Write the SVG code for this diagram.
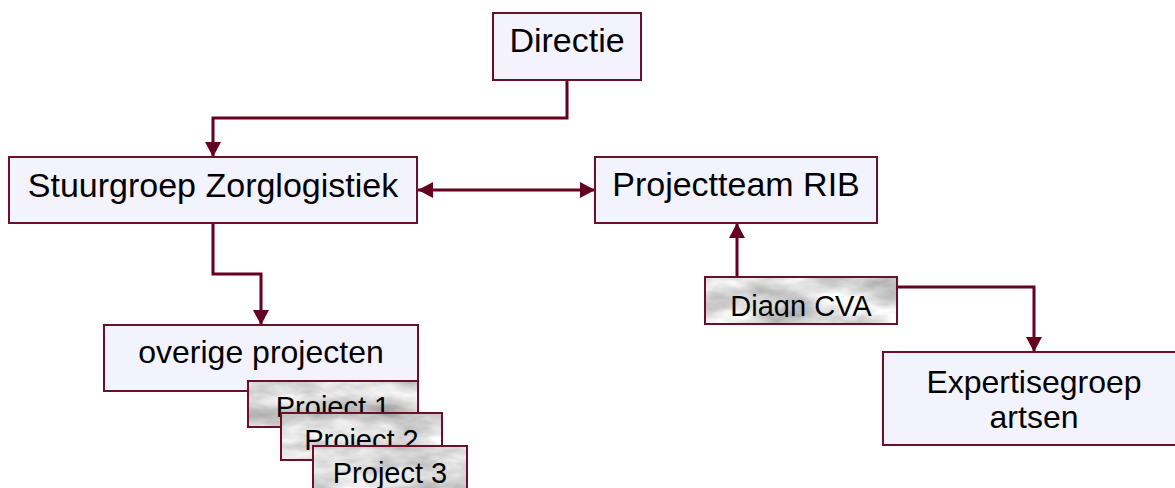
<svg xmlns="http://www.w3.org/2000/svg" width="1175" height="488" viewBox="0 0 1175 488">
  <style>
    .box { fill: #f3f3fe; stroke: #6b1028; stroke-width: 2; }
    .frame { fill: none; stroke: #6b1028; stroke-width: 2; }
    .tex { fill: #dddddd; filter: url(#marble); }
    .lbl { font-family: "Liberation Sans", Arial, sans-serif; fill: #000; text-anchor: middle; }
    .big { font-size: 34px; }
    .mid { font-size: 32px; }
    .small { font-size: 29px; }
    .conn { fill: none; stroke: #660020; stroke-width: 3; }
  </style>
  <defs>
    <marker id="arrow" markerUnits="userSpaceOnUse" markerWidth="16" markerHeight="16" viewBox="0 0 16 16" refX="15" refY="8" orient="auto-start-reverse">
      <path d="M0,0 L15,8 L0,16 z" fill="#660020"/>
    </marker>
    <filter id="marble" x="0" y="0" width="100%" height="100%" color-interpolation-filters="sRGB">
      <feTurbulence type="fractalNoise" baseFrequency="0.016 0.04" numOctaves="4" seed="7" result="n"/>
      <feColorMatrix in="n" type="matrix" values="0.6 0 0 0 0.56  0.6 0 0 0 0.56  0.6 0 0 0 0.56  0 0 0 0 1" result="g"/>
      <feComposite in="g" in2="SourceGraphic" operator="in"/>
    </filter>
    <clipPath id="clipDiagn">
      <rect x="705" y="277" width="192" height="40"/>
    </clipPath>
  </defs>

  <g id="connectors">
    <path class="conn" d="M567,80 V118 H213 V157" marker-end="url(#arrow)"/>
    <path class="conn" d="M418,190 H595" marker-start="url(#arrow)" marker-end="url(#arrow)"/>
    <path class="conn" d="M213,223 V274 H261 V325" marker-end="url(#arrow)"/>
    <path class="conn" d="M737,277 V223" marker-end="url(#arrow)"/>
    <path class="conn" d="M897,287 H1034 V352" marker-end="url(#arrow)"/>
  </g>

  <g id="directie">
    <rect class="box" x="493" y="13" width="148" height="67"/>
    <text class="lbl big" x="567" y="52">Directie</text>
  </g>

  <g id="stuurgroep">
    <rect class="box" x="9" y="157" width="408" height="66"/>
    <text class="lbl big" x="213" y="197">Stuurgroep Zorglogistiek</text>
  </g>

  <g id="projectteam">
    <rect class="box" x="595" y="157" width="282" height="66"/>
    <text class="lbl big" x="736" y="196">Projectteam RIB</text>
  </g>

  <g id="diagn-cva">
    <rect class="tex" x="705" y="277" width="192" height="47"/>
    <rect class="frame" x="705" y="277" width="192" height="47"/>
    <text class="lbl small" x="801" y="316" clip-path="url(#clipDiagn)">Diagn CVA</text>
  </g>

  <g id="expertisegroep">
    <rect class="box" x="883" y="352" width="303" height="93"/>
    <text class="lbl mid" x="1034" y="393">Expertisegroep</text>
    <text class="lbl mid" x="1034" y="428">artsen</text>
  </g>

  <g id="overige-projecten">
    <rect class="box" x="104" y="325" width="314" height="66"/>
    <text class="lbl mid" x="261" y="363">overige projecten</text>
  </g>

  <g id="project-1">
    <rect class="tex" x="248" y="381" width="170" height="46"/>
    <rect class="frame" x="248" y="381" width="170" height="46"/>
    <text class="lbl small" x="333" y="417">Project 1</text>
  </g>

  <g id="project-2">
    <rect class="tex" x="281" y="413" width="161" height="47"/>
    <rect class="frame" x="281" y="413" width="161" height="47"/>
    <text class="lbl small" x="361.5" y="450">Project 2</text>
  </g>

  <g id="project-3">
    <rect class="tex" x="313" y="446" width="154" height="50"/>
    <rect class="frame" x="313" y="446" width="154" height="50"/>
    <text class="lbl small" x="390" y="483">Project 3</text>
  </g>
</svg>
